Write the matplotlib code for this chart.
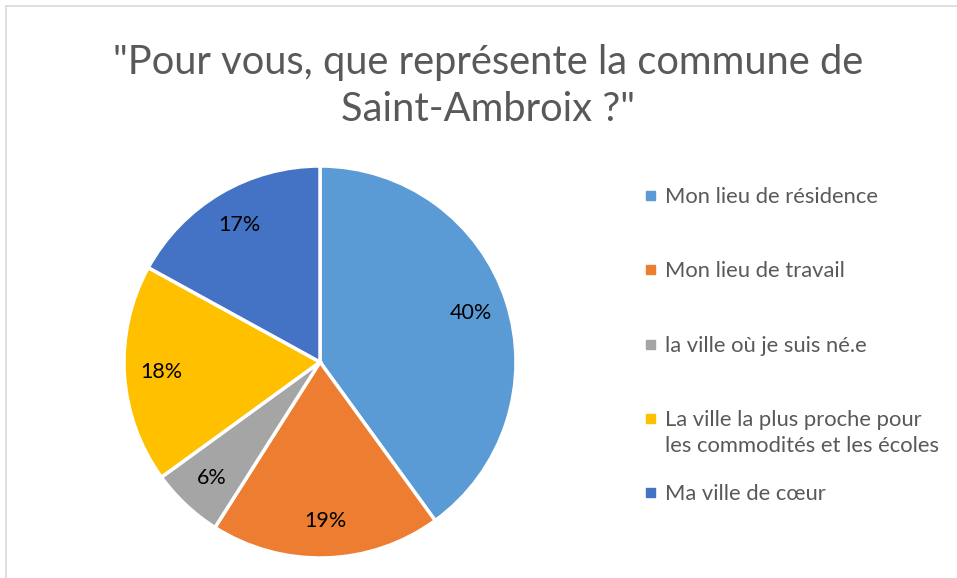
import matplotlib
matplotlib.use("Agg")
import matplotlib.pyplot as plt
from matplotlib.patches import Rectangle
from matplotlib.lines import Line2D

plt.rcParams['font.family'] = ['Lato', 'DejaVu Sans']

title = '"Pour vous, que représente la commune de\nSaint-Ambroix ?"'
categories = [
    "Mon lieu de résidence",
    "Mon lieu de travail",
    "la ville où je suis né.e",
    "La ville la plus proche pour\nles commodités et les écoles",
    "Ma ville de cœur",
]
shares = [40, 19, 6, 18, 17]
colors = ["#5B9BD5", "#ED7D31", "#A5A5A5", "#FFC000", "#4472C4"]

W, H = 957, 578
fig = plt.figure(figsize=(W / 100, H / 100), dpi=100)

# thin chart-area border (left and top visible)
fig.add_artist(Line2D([6 / W, 6 / W], [0, 1 - 6 / H], color="#D9D9D9", lw=1.2))
fig.add_artist(Line2D([6 / W, 1], [1 - 6 / H, 1 - 6 / H], color="#D9D9D9", lw=1.2))

fig.text(488 / W, 1 - 86 / H, title, ha="center", va="center",
         fontsize=28.7, color="#595959", linespacing=1.35)

ax = fig.add_axes([124 / W, 20 / H, 392 / W, 392 / H])
wedges, _, autotexts = ax.pie(
    shares, colors=colors, startangle=90, counterclock=False,
    autopct="%d%%", pctdistance=0.81,
    wedgeprops=dict(edgecolor="white", linewidth=2.5),
    textprops=dict(fontsize=15.5, color="black"),
)
ax.set_xlim(-1, 1)
ax.set_ylim(-1, 1)
ax.set_aspect("equal")

# legend, Excel-style spacing
ys = [195, 269, 344, 418, 492]
for lab, col, y in zip(categories, colors, ys):
    fig.add_artist(Rectangle((646 / W, 1 - (y + 5) / H), 9 / W, 9 / H,
                             color=col, transform=fig.transFigure))
    fig.text(665 / W, 1 - (y - 8) / H, lab, ha="left", va="top",
             fontsize=15.8, color="#595959", linespacing=1.4)

fig.savefig("out.png", dpi=100)
